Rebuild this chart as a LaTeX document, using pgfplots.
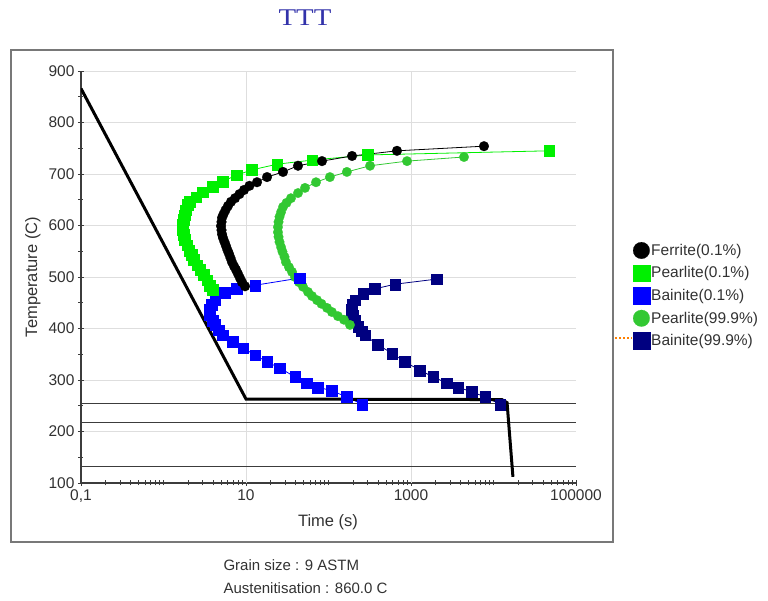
\documentclass[border=0pt]{standalone}
\usepackage{fontspec}
\setmainfont{Liberation Sans}
\newfontfamily\titlefont{Liberation Serif}
\usepackage{pgfplots}
\pgfplotsset{compat=1.18}

\definecolor{ferritec}{RGB}{0,0,0}
\definecolor{pearlitea}{RGB}{0,240,0}
\definecolor{bainitea}{RGB}{0,0,255}
\definecolor{pearliteb}{RGB}{50,200,50}
\definecolor{bainiteb}{RGB}{0,0,128}
\definecolor{gridgray}{RGB}{222,222,222}
\definecolor{axisgray}{RGB}{60,60,60}
\definecolor{framegray}{RGB}{120,120,120}
\definecolor{titleblue}{RGB}{50,50,170}
\definecolor{txtgray}{RGB}{50,50,50}

\begin{document}
\begin{tikzpicture}
\path[use as bounding box] (-81pt,-118pt) rectangle (687pt,483pt);
\draw[framegray, line width=1.5pt] (-70pt,-59pt) rectangle (532pt,433pt);
\node[font=\titlefont\fontsize{24}{24}\selectfont, text=titleblue] at (224pt,465pt) {\scalebox{1.2}[1]{TTT}};
\node[anchor=west, font=\fontsize{15}{16}\selectfont, text=txtgray] at (139pt,-82pt) {Grain size : 9 ASTM};
\node[anchor=west, font=\fontsize{15}{16}\selectfont, text=txtgray] at (139pt,-105pt) {Austenitisation : 860.0 C};
\draw[orange, dotted, line width=2pt] (534pt,145pt) -- (551pt,145pt);

\begin{axis}[
    at={(0pt,0pt)}, anchor=south west,
    scale only axis, width=495pt, height=412pt,
    xmode=log, xmin=0.1, xmax=100000, ymin=100, ymax=900,
    axis x line=bottom, axis y line=left,
    axis line style={-, line width=1.5pt, color=axisgray},
    tick align=center, major tick length=6pt, minor tick length=5pt,
    tick style={line width=0.9pt, color=axisgray},
    xtick={0.1,10,1000,100000}, xticklabels={{0,1},10,1000,100000},
    minor xtick={0.2,0.3,0.4,0.5,0.6,0.7,0.8,0.9,1,2,3,4,5,6,7,8,9,
        20,30,40,50,60,70,80,90,100,200,300,400,500,600,700,800,900,
        2000,3000,4000,5000,6000,7000,8000,9000,10000,
        20000,30000,40000,50000,60000,70000,80000,90000},
    ytick={100,200,...,900}, minor y tick num=1,
    ymajorgrids, grid style={gridgray, line width=0.8pt},
    extra x ticks={10,1000}, extra x tick labels={,},
    extra x tick style={grid=major, major tick length=0pt},
    /pgf/number format/assume math mode=true,
    tick label style={font=\fontsize{15.5}{16}\selectfont, text=txtgray},
    xlabel={Time (s)}, ylabel={Temperature (C)},
    label style={font=\fontsize{16.5}{17}\selectfont, text=txtgray},
    xlabel style={at={(axis description cs:0.499,-0.0947)}, anchor=center},
    ylabel style={at={(axis description cs:-0.097,0.5)}, anchor=center},
    legend style={at={(axis description cs:1.115,0.585)}, anchor=north west,
        draw=none, fill=none, inner sep=0pt, row sep=6pt,
        font=\fontsize{15.5}{16}\selectfont, text=txtgray,
        nodes={inner sep=1.5pt}},
    legend cell align=left, reverse legend,
    legend image code/.code={\draw[#1, mark size=8.3pt] plot coordinates {(8pt,0pt)};},
]
\addplot[bainiteb, line width=0.8pt, mark=square*, mark size=5.4pt, mark options={line width=0.2pt}] coordinates {
(2066,496) (640,486) (366,477) (262,467) (210,455) (193,446) (190,436) (196,426)
(207,416) (228,403) (250,395) (277,387) (398,368) (589,352) (845,335) (1285,319)
(1849,306) (2730,294) (3715,286) (5480,277) (7890,267) (12000,253)
};
\addlegendentry{Bainite(99.9\%)}
\addplot[pearliteb, line width=0.8pt, mark=*, mark size=4.8pt, mark options={line width=0.2pt}] coordinates {
(182,407) (154,417) (130,424) (110,432) (95.9,440) (82.2,448) (72.6,455) (63.1,463)
(56.4,471) (49.1,481) (43.8,490) (39.3,500) (36.1,510) (33.2,519) (30.5,529) (29.3,539)
(27.7,549) (26.6,558) (25.5,568) (24.8,578) (24.4,587) (24.4,597) (24.8,607) (25.5,617)
(26.6,626) (28.1,636) (31.0,644) (35.1,653) (42.7,663) (51.9,673) (70.6,684) (104,694)
(167,704) (319,716) (895,725) (4390,733)
};
\addlegendentry{Pearlite(99.9\%)}
\addplot[bainitea, line width=0.8pt, mark=square*, mark size=5.4pt, mark options={line width=0.2pt}] coordinates {
(45.1,498) (12.9,484) (7.78,477) (5.56,469) (4.21,455) (3.87,446) (3.66,436) (3.66,426)
(3.9,416) (4.21,407) (4.7,397) (5.26,387) (6.95,374) (9.2,362) (12.9,348.5) (18.0,335)
(25.8,323) (39.3,306) (54.8,294) (74.6,286) (110,279) (167,267) (255,253)
};
\addlegendentry{Bainite(0.1\%)}
\addplot[pearlitea, line width=0.8pt, mark=square*, mark size=5.4pt, mark options={line width=0.2pt}] coordinates {
(3.98,475) (3.66,484) (3.37,494) (3.05,504) (2.77,514) (2.55,523) (2.34,533) (2.18,543)
(2.04,552) (1.93,562) (1.82,572) (1.77,582) (1.72,591) (1.72,601) (1.75,611) (1.80,620)
(1.87,630) (1.98,640) (2.09,646) (2.48,655) (3.01,665) (3.98,675) (5.26,686) (7.78,698)
(11.8,708) (23.8,719) (63.1,727) (301,737) (47100,745)
};
\addlegendentry{Pearlite(0.1\%)}
\addplot[ferritec, line width=0.8pt, mark=*, mark size=4.9pt, mark options={line width=0.2pt}] coordinates {
(9.73,482) (8.95,490) (8.45,498) (8.0,506) (7.57,514) (7.16,521) (6.76,529) (6.49,537)
(6.22,545) (5.97,552) (5.73,560) (5.49,568) (5.26,576) (5.12,583) (5.05,591) (4.98,599)
(5.05,607) (5.12,615) (5.34,622) (5.65,630) (6.05,638) (6.58,646) (7.36,653) (8.34,661)
(9.46,669) (11.0,677) (13.6,684) (18.0,694) (28.1,704) (42.7,716) (83.4,725) (193,735)
(676,745) (7670,754)
};
\addlegendentry{Ferrite(0.1\%)}
% Ms, M50, M90 lines
\addplot[axisgray, line width=1.1pt, forget plot] coordinates {(0.1,255) (100000,255)};
\addplot[axisgray, line width=1.1pt, forget plot] coordinates {(0.1,218) (100000,218)};
\addplot[axisgray, line width=1.1pt, forget plot] coordinates {(0.1,132) (100000,132)};
% cooling path
\addplot[black, line width=3pt, forget plot] coordinates {
(0.1,866) (10,263) (12600,262) (14600,256) (17200,112)
};
\end{axis}
\end{tikzpicture}
\end{document}
